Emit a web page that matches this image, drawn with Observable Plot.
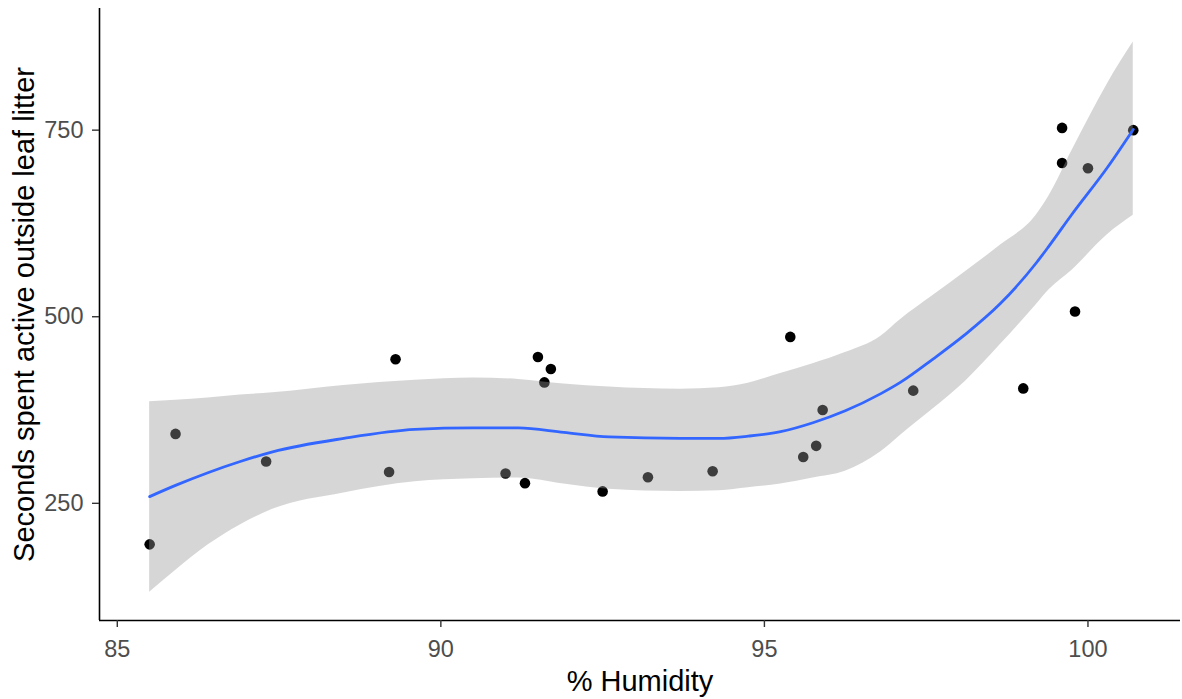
<!DOCTYPE html>
<html>
<head>
<meta charset="utf-8">
<script src="https://cdn.jsdelivr.net/npm/d3@7"></script>
<script src="https://cdn.jsdelivr.net/npm/@observablehq/plot@0.6"></script>
<style>
  html, body { margin: 0; padding: 0; background: #ffffff; }
  #chart { width: 1182px; height: 699px; }
</style>
</head>
<body>
<div id="chart"></div>
<script>
// Observed points
const humidity = [85.5, 85.9, 87.3, 89.2, 89.3, 91.0, 91.3, 91.5, 91.6, 91.7, 92.5, 93.2, 94.2, 95.4, 95.6, 95.8, 95.9, 97.3, 99.0, 99.6, 99.6, 99.8, 100.0, 100.7];
const seconds  = [195, 343, 306, 292, 443, 290, 277, 446, 412, 430, 266, 285, 293, 473, 312, 327, 375, 401, 404, 753, 706, 507, 699, 750];

// Smoothed fit and its confidence band
const smoothX  = [85.5, 85.9, 86.4, 86.9, 87.4, 88.5, 89.6, 90.5, 91.2, 91.9, 92.6, 93.7, 94.3, 94.75, 95.25, 95.75, 96.25, 96.8, 97.1, 97.6, 98.1, 98.65, 99.2, 99.4, 99.75, 100.3, 100.7];
const smoothY  = [259, 274, 291, 306, 319, 337, 349, 351, 351, 345, 339, 337, 337, 340, 346, 358, 374, 397, 412, 443, 476, 518, 572, 595, 637, 700, 751];
const smoothLo = [131, 160, 194, 221, 242, 264, 279, 283, 284, 276, 269, 266, 267, 271, 276, 284, 293, 319, 341, 376, 413, 463, 516, 536, 562, 610, 636];
const smoothHi = [386, 388, 391, 395, 398, 408, 415, 418, 416, 410, 406, 403, 405, 411, 424, 437, 452, 474, 496, 528, 560, 596, 636, 662, 722, 812, 868];

const xTicks = [85, 90, 95, 100];
const yTicks = [250, 500, 750];
const xTitle = "% Humidity";
const yTitle = "Seconds spent active outside leaf litter";

const points = humidity.map((h, i) => ({h, s: seconds[i]}));
const smooth = smoothX.map((x, i) => ({x, y: smoothY[i], lo: smoothLo[i], hi: smoothHi[i]}));

const xDomain = [84.725, 101.43];
const yDomain = [93, 913];

const chart = Plot.plot({
  width: 1182,
  height: 699,
  marginLeft: 99,
  marginRight: 2,
  marginTop: 8,
  marginBottom: 79,
  style: {fontFamily: "'Liberation Sans', Arial, sans-serif", background: "#ffffff"},
  x: {domain: xDomain},
  y: {domain: yDomain},
  marks: [
    Plot.dot(points, {x: "h", y: "s", r: 5.3, fill: "#000000", stroke: "none"}),
    Plot.areaY(smooth, {x: "x", y1: "lo", y2: "hi", fill: "#999999", fillOpacity: 0.4, curve: "monotone-x"}),
    Plot.lineY(smooth, {x: "x", y: "y", stroke: "#3366FF", strokeWidth: 2.8, curve: "monotone-x"}),
    Plot.ruleY([yDomain[0]], {stroke: "#000000", strokeWidth: 1.6}),
    Plot.ruleX([xDomain[0]], {stroke: "#000000", strokeWidth: 1.6}),
    Plot.axisX({ticks: xTicks, tickSize: 7, tickPadding: 13, stroke: "#333333", strokeWidth: 1.4, fill: "#4d4d4d", fontSize: 23.5, label: null, tickFormat: d => String(d)}),
    Plot.axisY({ticks: yTicks, tickSize: 7, tickPadding: 9, stroke: "#333333", strokeWidth: 1.4, fill: "#4d4d4d", fontSize: 23.5, label: null, tickFormat: d => String(d)}),
    Plot.text([xTitle], {frameAnchor: "bottom", textAnchor: "middle", dy: 70, fontSize: 29, fill: "#000000", text: d => d}),
    Plot.text([yTitle], {frameAnchor: "left", textAnchor: "middle", dx: -75, rotate: -90, fontSize: 29, fill: "#000000", text: d => d})
  ]
});
document.getElementById("chart").appendChild(chart);
</script>
</body>
</html>
